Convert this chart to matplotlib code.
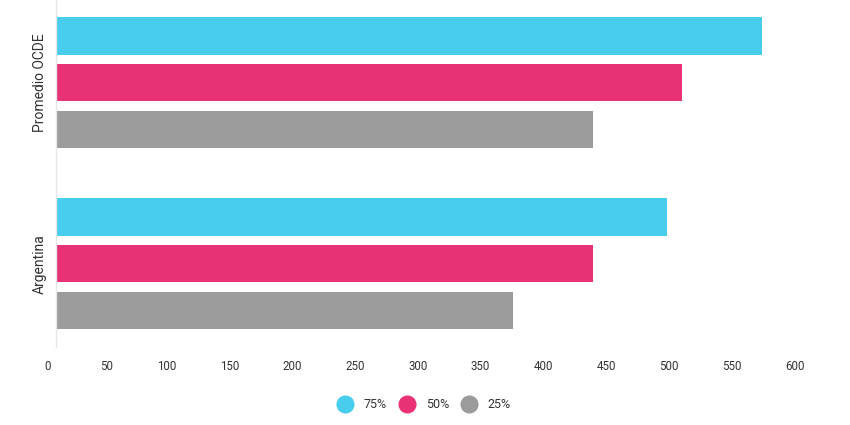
import matplotlib
matplotlib.use("Agg")
import matplotlib.pyplot as plt
import matplotlib.transforms as mtransforms
from matplotlib.lines import Line2D
import numpy as np

plt.rcParams['font.family'] = ['Roboto', 'DejaVu Sans']

categories = ["Argentina", "Promedio OCDE"]
series_names = ["75%", "50%", "25%"]
p75 = [487, 562]
p50 = [428, 499]
p25 = [364, 428]
colors = ["#48CDEC", "#E93276", "#9B9B9B"]
xticks = [0, 50, 100, 150, 200, 250, 300, 350, 400, 450, 500, 550, 600]

W, H = 850, 425
fig = plt.figure(figsize=(W / 100, H / 100), dpi=100)
left, right, top, bottom = 55.5, 809.3, 0, 347
ax = fig.add_axes([left / W, 1 - bottom / H, (right - left) / W, (bottom - top) / H])

y = np.arange(len(categories))
off = 0.258
h = 0.205
for vals, c, o, name in zip([p75, p50, p25], colors, [off, 0, -off], series_names):
    ax.barh(y + o, vals, height=h, color=c, label=name, zorder=2)

ax.set_xlim(0, 600)
ax.set_ylim(-0.460, 1.457)
for s in ["top", "right", "bottom"]:
    ax.spines[s].set_visible(False)
ax.spines["left"].set_color("#e6e6e6")
ax.spines["left"].set_linewidth(1)

ax.set_xticks(xticks)
ax.set_xticklabels([str(t) for t in xticks], ha="right", fontsize=8.3, color="#333333")
ax.tick_params(axis="x", length=0, pad=9)
shift = mtransforms.ScaledTranslation(-5 / 100, 0, fig.dpi_scale_trans)
for lbl in ax.get_xticklabels():
    lbl.set_transform(lbl.get_transform() + shift)

ax.set_yticks(y)
ax.set_yticklabels(categories, rotation=90, va="center", fontsize=10, color="#333333")
ax.tick_params(axis="y", length=0, pad=6)

handles = [Line2D([0], [0], marker="o", linestyle="none", markersize=12,
                  markerfacecolor=c, markeredgecolor=c) for c in colors]
fig.legend(handles, series_names, loc="center", bbox_to_anchor=(0.5, 1 - 405 / H),
           ncol=3, frameon=False, fontsize=9, handlelength=1.0, handletextpad=1.0,
           columnspacing=1.1, labelcolor="#333333")

fig.savefig("out.png", dpi=100, facecolor="white")
